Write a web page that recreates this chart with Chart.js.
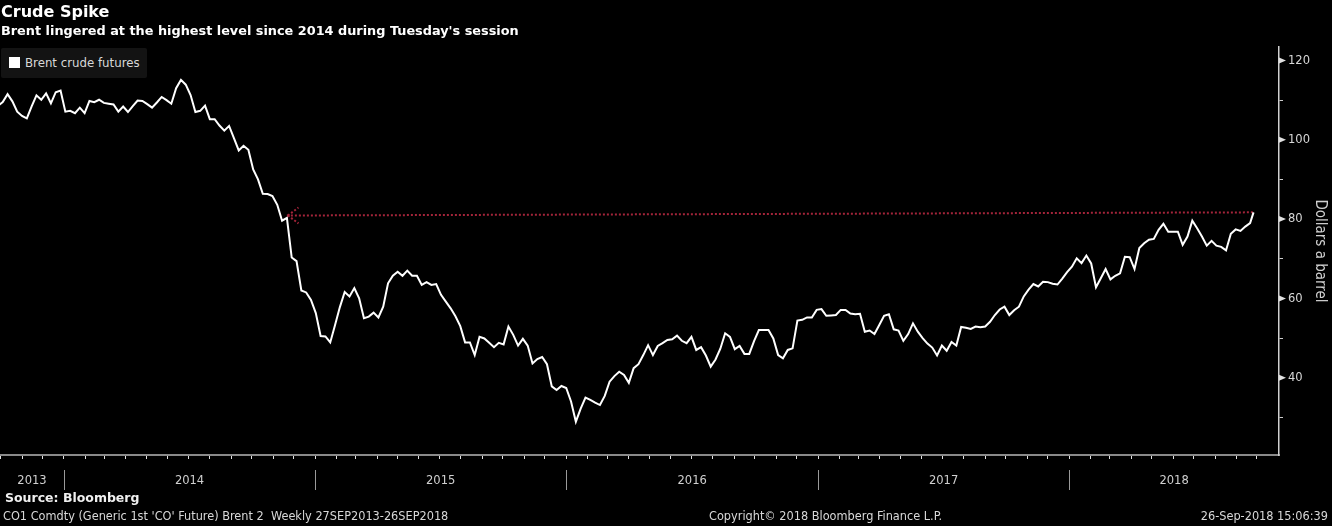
<!DOCTYPE html>
<html><head><meta charset="utf-8">
<script src="https://cdn.jsdelivr.net/npm/chart.js@4.4.0/dist/chart.umd.min.js"></script>
<style>
html,body{margin:0;padding:0;background:#000;width:1332px;height:526px;overflow:hidden;}
#wrap{position:relative;width:1332px;height:526px;}
#c{position:absolute;left:0;top:0;width:1332px;height:526px;}
.t{position:absolute;font-family:'DejaVu Sans',sans-serif;white-space:pre;line-height:1;}
.f{font-family:'DejaVu Sans Condensed','DejaVu Sans',sans-serif;font-size:12.6px;color:#d8d8d8;}
#legend{position:absolute;left:1px;top:48px;width:146px;height:30px;background:#131313;border-radius:2px;}
#legend .sq{position:absolute;left:8px;top:9px;width:11px;height:11px;background:#fff;}
#legend .lt{position:absolute;left:24px;top:8px;font-family:'DejaVu Sans Condensed','DejaVu Sans',sans-serif;font-size:13.1px;color:#d8d8d8;white-space:pre;line-height:1;}
</style></head><body>
<div id="wrap">
<canvas id="c" width="1332" height="526"></canvas>
<div class="t" style="left:1px;top:4px;font-size:16px;font-weight:bold;color:#fff;">Crude Spike</div>
<div class="t" style="left:1px;top:25px;font-size:12.85px;font-weight:bold;color:#fff;">Brent lingered at the highest level since 2014 during Tuesday's session</div>
<div id="legend"><div class="sq"></div><div class="lt">Brent crude futures</div></div>
<div class="t" style="left:5px;top:492px;font-size:12.5px;font-weight:bold;color:#f0f0f0;">Source: Bloomberg</div>
<div class="t f" style="left:3px;top:510px;">CO1 Comdty (Generic 1st 'CO' Future) Brent 2  Weekly 27SEP2013-26SEP2018</div>
<div class="t f" style="left:709px;top:510px;">Copyright© 2018 Bloomberg Finance L.P.</div>
<div class="t f" style="right:4px;top:510px;">26-Sep-2018 15:06:39</div>
</div>
<script>
// ---- data ----
const firstWeek = '2013-09-27';           // weekly closes, one per Friday
const brentWeekly = [
  108.6,109.5,111.5,109.7,107.1,106.0,105.4,108.4,111.2,110.1,
  111.7,109.2,112.0,112.4,107.1,107.3,106.7,108.1,106.7,109.8,
  109.5,110.1,109.3,109.1,108.9,107.1,108.4,107.0,108.5,109.9,
  109.8,109.0,108.1,109.4,110.8,110.0,109.1,113.0,115.1,113.9,
  111.3,107.0,107.3,108.6,105.2,105.2,103.6,102.3,103.5,100.4,
  97.3,98.5,97.5,92.5,90.0,86.4,86.3,85.8,83.6,79.6,
  80.3,70.3,69.4,62.0,61.5,59.6,56.3,50.5,50.4,48.9,
  53.3,57.8,61.6,60.5,62.6,60.0,55.0,55.4,56.4,55.2,
  57.9,63.8,65.7,66.7,65.7,67.0,65.7,65.7,63.4,64.1,
  63.4,63.6,60.9,59.2,57.5,55.5,53.0,48.9,48.9,45.7,
  50.3,49.9,48.8,47.7,48.8,48.4,52.9,50.8,48.1,49.8,
  48.1,43.6,44.7,45.2,43.4,37.8,36.9,37.9,37.4,34.0,
  28.9,32.2,35.0,34.4,33.7,33.1,35.4,39.0,40.4,41.5,
  40.7,38.7,42.4,43.4,45.7,48.2,45.7,48.0,48.7,49.5,
  49.7,50.6,49.3,48.7,50.3,47.0,47.7,45.6,42.8,44.6,
  47.3,51.2,50.3,47.2,48.0,46.0,46.0,49.2,52.0,52.0,
  52.0,49.9,45.7,44.9,47.0,47.4,54.4,54.6,55.2,55.2,
  57.1,57.3,55.6,55.7,55.8,57.1,57.1,56.2,56.0,56.1,
  51.6,51.9,51.0,53.3,55.6,56.0,52.2,51.9,49.3,51.0,
  53.7,51.6,50.0,48.6,47.6,45.6,48.1,46.8,49.0,48.1,
  52.8,52.6,52.3,52.9,52.7,52.9,54.1,55.8,57.2,57.9,
  55.8,57.0,57.9,60.5,62.2,63.6,63.0,64.2,64.1,63.7,
  63.5,65.0,66.6,68.0,70.1,68.9,70.8,68.8,62.8,65.1,
  67.4,64.8,65.7,66.3,70.5,70.4,67.4,72.7,73.9,74.8,
  75.0,77.3,78.8,76.8,76.8,76.8,73.5,75.6,79.6,77.7,
  75.6,73.3,74.5,73.3,73.0,72.1,76.3,77.4,77.0,78.1,
  79.0
];
const lastDate = '2018-09-26';
const lastValue = 81.7;
const arrowFrom = {date:'2018-09-26', value:81.7};
const arrowTo   = {date:'2014-11-21', value:80.9};
const axisStart = '2013-09-30';
const axisEnd   = '2018-11-02';
const yearLabels = ['2013','2014','2015','2016','2017','2018'];
const yTickValues = [30,40,50,60,70,80,90,100,110,120];
const yLabelValues = [40,60,80,100,120];
const yMin = 20.5, yMax = 123.4;

// ---- helpers ----
const DAY = 86400000;
const toDay = s => Date.UTC(+s.slice(0,4), +s.slice(5,7)-1, +s.slice(8,10)) / DAY;
const xMin = toDay(axisStart), xMax = toDay(axisEnd);
const start = toDay(firstWeek);
const linePts = brentWeekly.map((v,i)=>({x:start+7*i, y:v}));
linePts.push({x:toDay(lastDate), y:lastValue});
const arrowPts = [{x:toDay(arrowTo.date), y:arrowTo.value},{x:toDay(arrowFrom.date), y:arrowFrom.value}];

const monthTicks = [];
for (let yr=2013; yr<=2018; yr++) for (let m=1; m<=12; m++) {
  const d = Date.UTC(yr, m-1, 1)/DAY;
  if (d >= xMin && d <= toDay('2018-10-01')) monthTicks.push(d);
}
const yearStarts = yearLabels.slice(1).map(y=>toDay(y+'-01-01'));
const yearCenters = yearLabels.map(y=>{
  const a = Math.max(toDay(y+'-01-01'), xMin), b = Math.min(toDay((+y+1)+'-01-01'), xMax);
  return (a+b)/2;
});

const CF = "'DejaVu Sans Condensed','DejaVu Sans',sans-serif";
const arrowColor = '#a3243a';

const decor = {
  id:'decor',
  afterDatasetsDraw(chart){
    const ctx = chart.ctx;
    const meta = chart.getDatasetMeta(1);
    const p0 = meta.data[0], p1 = meta.data[1];
    const ang = Math.atan2(p1.y-p0.y, p1.x-p0.x);
    ctx.save();
    ctx.strokeStyle = arrowColor; ctx.lineWidth = 2; ctx.setLineDash([2,2]);
    [-0.6,0.6].forEach(a=>{
      ctx.beginPath(); ctx.moveTo(p0.x+1, p0.y);
      ctx.lineTo(p0.x+14*Math.cos(ang+a), p0.y+14*Math.sin(ang+a));
      ctx.stroke();
    });
    ctx.restore();
  },
  afterDraw(chart){
    const {ctx, chartArea} = chart;
    const x = chart.scales.x, y = chart.scales.y;
    ctx.save();
    ctx.strokeStyle = '#9a9a9a'; ctx.lineWidth = 1;
    yearStarts.forEach(d=>{
      const px = Math.round(x.getPixelForValue(d)) + 0.5;
      ctx.beginPath(); ctx.moveTo(px, chartArea.bottom+15); ctx.lineTo(px, chartArea.bottom+35); ctx.stroke();
    });
    ctx.fillStyle = '#e0e0e0';
    const ax = chartArea.right;
    yLabelValues.forEach(v=>{
      const py = y.getPixelForValue(v);
      ctx.beginPath(); ctx.moveTo(ax, py-3); ctx.lineTo(ax+7, py); ctx.lineTo(ax, py+3); ctx.closePath(); ctx.fill();
    });
    ctx.restore();
  }
};

new Chart(document.getElementById('c'), {
  type:'line',
  data:{datasets:[
    {data:linePts, borderColor:'#ffffff', borderWidth:2, pointRadius:0, tension:0, order:1},
    {data:arrowPts, borderColor:arrowColor, borderWidth:2, borderDash:[2,2], pointRadius:0, order:2}
  ]},
  options:{
    responsive:false, animation:false, devicePixelRatio:1,
    layout:{padding:{top:47, left:0, right:0, bottom:27}},
    plugins:{legend:{display:false}, tooltip:{enabled:false}},
    scales:{
      x:{type:'linear', min:xMin, max:xMax, position:'bottom',
        afterBuildTicks:s=>{ s.ticks = monthTicks.map(v=>({value:v})); },
        ticks:{display:false},
        grid:{display:true, drawOnChartArea:false, drawTicks:true, tickLength:4, color:'#e0e0e0', lineWidth:1},
        border:{display:true, color:'#8a8a8a', width:2},
        afterFit:s=>{ s.height = 4; }
      },
      x2:{type:'linear', axis:'x', min:xMin, max:xMax, position:'bottom',
        afterBuildTicks:s=>{ s.ticks = yearCenters.map(v=>({value:v})); },
        ticks:{color:'#d0d0d0', font:{family:CF, size:12.8}, padding:14, maxRotation:0, minRotation:0, autoSkip:false,
          callback:(v,i)=>yearLabels[i]},
        grid:{display:false, drawTicks:false},
        border:{display:false},
        afterFit:s=>{ s.height = 40; }
      },
      y:{position:'right', min:yMin, max:yMax,
        afterBuildTicks:s=>{ s.ticks = yTickValues.map(v=>({value:v})); },
        ticks:{color:'#d8d8d8', font:{family:CF, size:12.8}, padding:5,
          callback:v=> yLabelValues.includes(v) ? String(v) : ''},
        grid:{display:true, drawOnChartArea:false, drawTicks:true, tickLength:4,
          color:c=> (c.tick && yLabelValues.includes(c.tick.value)) ? 'rgba(0,0,0,0)' : '#cccccc'},
        border:{display:true, color:'#d0d0d0', width:1.5},
        title:{display:true, text:'Dollars a barrel', color:'#d0d0d0', font:{family:CF, size:15}, padding:{top:3, bottom:0}},
        afterFit:s=>{ s.width = 53; }
      }
    }
  },
  plugins:[decor]
});
</script>
</body></html>
